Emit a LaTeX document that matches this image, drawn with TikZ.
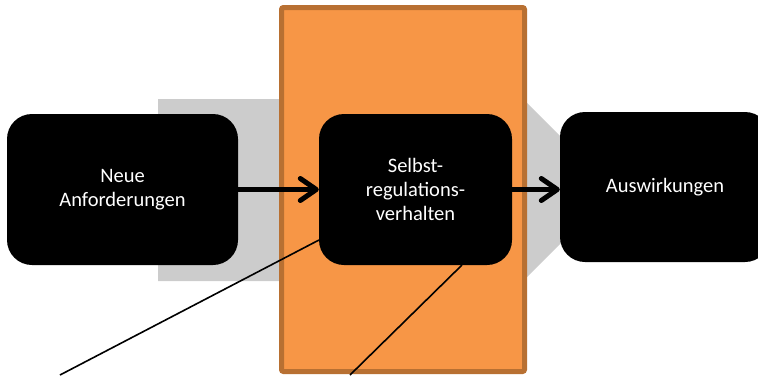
\documentclass[tikz,border=0pt]{standalone}
\usepackage{fontspec}
\setmainfont{Carlito}
\usetikzlibrary{arrows.meta}
\definecolor{grayarrow}{RGB}{204,204,204}
\definecolor{orfill}{RGB}{247,150,70}
\definecolor{ordraw}{RGB}{184,112,50}
\begin{document}
\begin{tikzpicture}[x=1pt,y=-1pt,
  box/.style={fill=black,text=white,rounded corners=25pt,inner sep=0pt,align=center,
    font=\fontsize{20.5}{24}\selectfont},
  flow/.style={line width=5pt,-{Straight Barb[length=16pt,width=22pt,line cap=round,line join=round]}},
  thinline/.style={line width=1.6pt}]
\useasboundingbox (0,0) rectangle (758,375);
\clip (0,0) rectangle (758,375);
\fill[grayarrow] (158,99) -- (523,99) -- (614,190) -- (523,281) -- (158,281) -- cycle;
\draw[ordraw, fill=orfill, line width=5pt, rounded corners=2pt] (281.5,7.5) rectangle (524.5,371.5);
\node[box, minimum width=231pt, minimum height=151pt] (a) at (122.5,189.5) {Neue\\Anforderungen};
\node[box, minimum width=193pt, minimum height=151pt] (b) at (415.5,189.5) {Selbst-\\regulations-\\verhalten};
\node[box, minimum width=210pt, minimum height=150pt] (c) at (665,187) {Auswirkungen};
\draw[flow] (a.east) -- (b.west);
\draw[flow] (b.east) -- (b.east -| c.west);
\coordinate (p1) at (319,240);
\coordinate (q1) at (60,375);
\coordinate (p2) at (462,265);
\coordinate (q2) at (350,375);
\draw[thinline] (p1) -- (q1);
\draw[thinline] (p2) -- (q2);
\end{tikzpicture}
\end{document}
